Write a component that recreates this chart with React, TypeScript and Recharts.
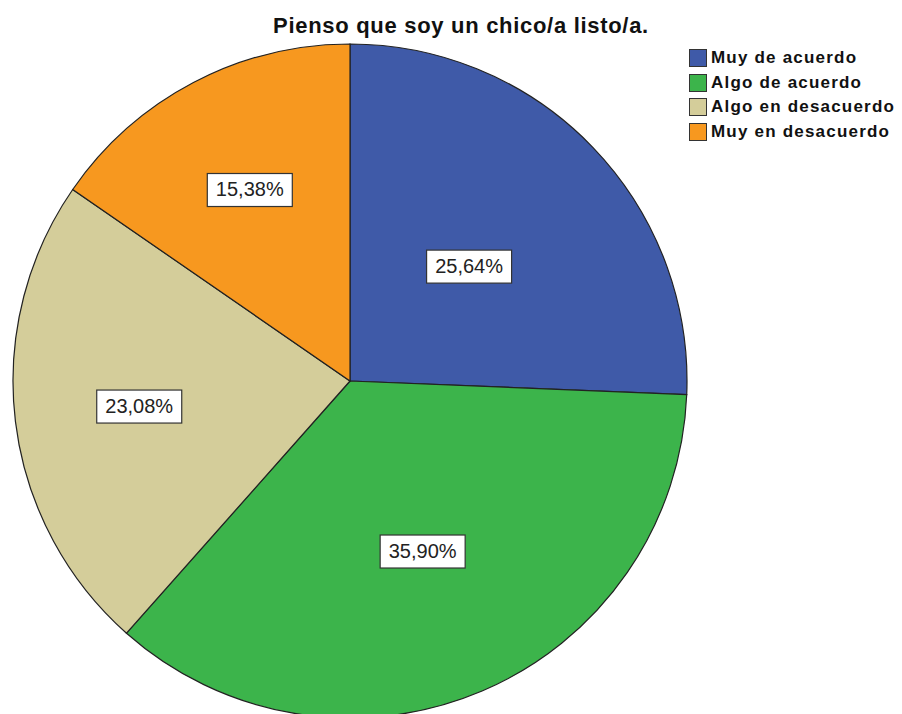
import { PieChart, Pie, Cell } from "recharts";

const categories = ["Muy de acuerdo", "Algo de acuerdo", "Algo en desacuerdo", "Muy en desacuerdo"];
const percents = [25.64, 35.9, 23.08, 15.38];
const colors = ["#3F5AA8", "#3CB44B", "#D4CD9A", "#F7981F"];
// how far out each label box sits, as a share of the radius
const labelRadius = [0.49, 0.55, 0.63, 0.64];

const data = categories.map((name, i) => ({ name, value: percents[i] }));

const RADIAN = Math.PI / 180;
const FONT = "Arial, 'Liberation Sans', sans-serif";

function renderLabel(props: any) {
  const { cx, cy, midAngle, outerRadius, index, value } = props;
  const r = outerRadius * labelRadius[index];
  const x = cx + r * Math.cos(-midAngle * RADIAN);
  const y = cy + r * Math.sin(-midAngle * RADIAN);
  const text = value.toFixed(2).replace(".", ",") + "%";
  const w = 85;
  const h = 33;
  return (
    <g>
      <rect x={x - w / 2} y={y - h / 2} width={w} height={h} fill="#fff" stroke="#333" strokeWidth={1.2} />
      <text x={x} y={y + 1} textAnchor="middle" dominantBaseline="middle" fontFamily={FONT} fontSize={20} fill="#222">
        {text}
      </text>
    </g>
  );
}

function LegendBox() {
  return (
    <div style={{ position: "absolute", left: 689, top: 46, fontFamily: FONT }}>
      {categories.map((c, i) => (
        <div key={c} style={{ display: "flex", alignItems: "center", height: 24.5 }}>
          <div
            style={{
              width: 16,
              height: 16,
              background: colors[i],
              border: "1px solid #333",
              marginRight: 4,
            }}
          />
          <span style={{ fontWeight: "bold", fontSize: 17, letterSpacing: 1.2, color: "#111", whiteSpace: "nowrap" }}>
            {c}
          </span>
        </div>
      ))}
    </div>
  );
}

export default function App() {
  return (
    <div style={{ position: "absolute", left: 0, top: 0, width: 902, height: 714, background: "#fff", overflow: "hidden" }}>
      <PieChart width={902} height={714} margin={{ top: 0, right: 0, bottom: 0, left: 0 }} style={{ position: "absolute", left: 0, top: 0 }}>
        <Pie
          data={data}
          dataKey="value"
          nameKey="name"
          cx={350}
          cy={381}
          outerRadius={337}
          startAngle={90}
          endAngle={-270}
          stroke="#222"
          strokeWidth={1.2}
          label={renderLabel}
          labelLine={false}
          isAnimationActive={false}
        >
          {data.map((d, i) => (
            <Cell key={d.name} fill={colors[i]} />
          ))}
        </Pie>
      </PieChart>
      <div
        style={{
          position: "absolute",
          left: 0,
          width: 922,
          top: 13,
          textAlign: "center",
          fontFamily: FONT,
          fontWeight: "bold",
          fontSize: 22,
          letterSpacing: 0.7,
          color: "#111",
        }}
      >
        Pienso que soy un chico/a listo/a.
      </div>
      <LegendBox />
    </div>
  );
}
